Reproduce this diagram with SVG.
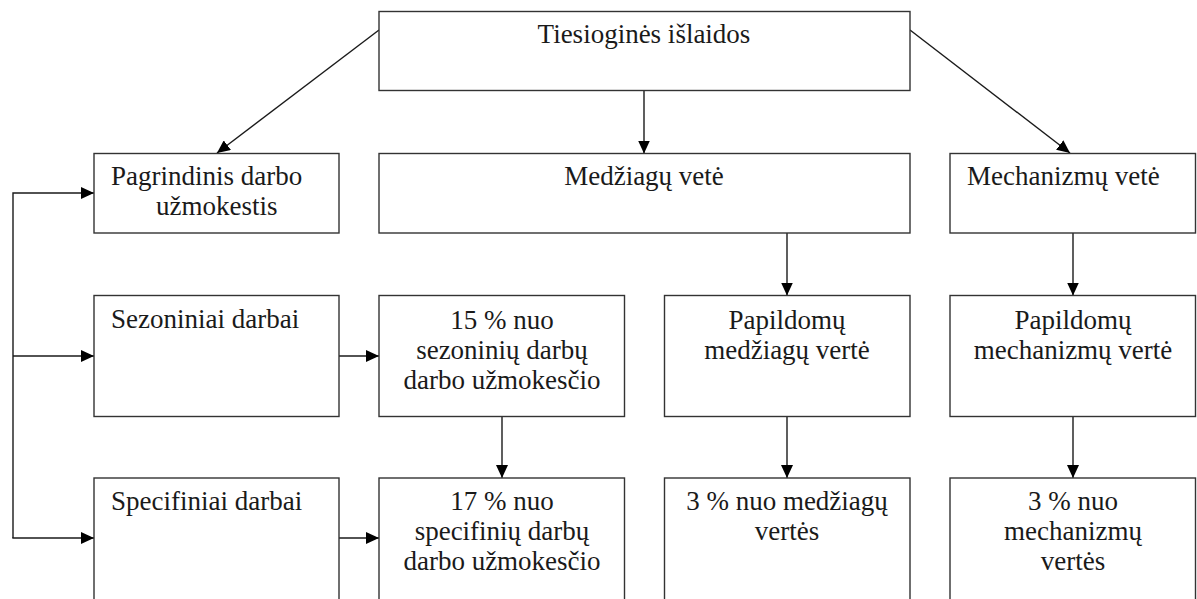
<svg xmlns="http://www.w3.org/2000/svg" width="1197" height="599" viewBox="0 0 1197 599">
<style>
.box{fill:#fff;stroke:#333;stroke-width:1.4}
.t{font-family:"Liberation Serif","DejaVu Serif",serif;font-size:27px;fill:#1a1a1a}
.c{text-anchor:middle}
.ln{fill:none;stroke:#1a1a1a;stroke-width:1.4}
</style>
<defs>
<marker id="ah" markerUnits="userSpaceOnUse" markerWidth="14" markerHeight="12" refX="13" refY="6" orient="auto">
<path d="M0,0 L13,6 L0,12 z" fill="#000"/>
</marker>
</defs>
<rect width="1197" height="599" fill="#fff"/>
<g id="connectors">
<line class="ln" x1="379" y1="30" x2="217" y2="153" marker-end="url(#ah)"/>
<line class="ln" x1="910" y1="30" x2="1070" y2="153" marker-end="url(#ah)"/>
<line class="ln" x1="644" y1="91" x2="644" y2="153.5" marker-end="url(#ah)"/>
<line class="ln" x1="787" y1="233" x2="787" y2="295.5" marker-end="url(#ah)"/>
<line class="ln" x1="1073" y1="233" x2="1073" y2="295.5" marker-end="url(#ah)"/>
<line class="ln" x1="502" y1="417" x2="502" y2="478" marker-end="url(#ah)"/>
<line class="ln" x1="787" y1="417" x2="787" y2="478" marker-end="url(#ah)"/>
<line class="ln" x1="1073" y1="417" x2="1073" y2="478" marker-end="url(#ah)"/>
<line class="ln" x1="339" y1="356" x2="379" y2="356" marker-end="url(#ah)"/>
<line class="ln" x1="339" y1="538" x2="379" y2="538" marker-end="url(#ah)"/>
<polyline class="ln" points="13,538 13,193 94,193" marker-end="url(#ah)"/>
<line class="ln" x1="13" y1="356" x2="94" y2="356" marker-end="url(#ah)"/>
<line class="ln" x1="12.3" y1="538" x2="94" y2="538" marker-end="url(#ah)"/>
</g>
<g id="n-tiesiogines">
<rect class="box" x="379" y="11.5" width="531" height="79"/>
<text class="t c" x="644" y="43">Tiesioginės išlaidos</text>
</g>
<g id="n-pagrindinis">
<rect class="box" x="94" y="153.5" width="245" height="79.5"/>
<text class="t" x="111" y="185">Pagrindinis darbo</text>
<text class="t" x="156" y="215">užmokestis</text>
</g>
<g id="n-medziagu">
<rect class="box" x="379" y="153.5" width="531" height="79.5"/>
<text class="t c" x="644" y="185">Medžiagų vetė</text>
</g>
<g id="n-mechanizmu">
<rect class="box" x="950" y="153.5" width="245.5" height="79.5"/>
<text class="t" x="967" y="185">Mechanizmų vetė</text>
</g>
<g id="n-sezoniniai">
<rect class="box" x="94" y="295.5" width="245" height="121"/>
<text class="t" x="111" y="328">Sezoniniai darbai</text>
</g>
<g id="n-15">
<rect class="box" x="379" y="295.5" width="245.5" height="121"/>
<text class="t c" x="502" y="329">15 % nuo</text>
<text class="t c" x="502" y="359">sezoninių darbų</text>
<text class="t c" x="502" y="389">darbo užmokesčio</text>
</g>
<g id="n-pap-medziagu">
<rect class="box" x="664.5" y="295.5" width="245.5" height="121"/>
<text class="t c" x="787" y="329">Papildomų</text>
<text class="t c" x="787" y="359">medžiagų vertė</text>
</g>
<g id="n-pap-mechanizmu">
<rect class="box" x="950" y="295.5" width="245.5" height="121"/>
<text class="t c" x="1073" y="329">Papildomų</text>
<text class="t c" x="1073" y="359">mechanizmų vertė</text>
</g>
<g id="n-specifiniai">
<rect class="box" x="94" y="478" width="245" height="135"/>
<text class="t" x="111" y="510">Specifiniai darbai</text>
</g>
<g id="n-17">
<rect class="box" x="379" y="478" width="245.5" height="135"/>
<text class="t c" x="502" y="510">17 % nuo</text>
<text class="t c" x="502" y="540">specifinių darbų</text>
<text class="t c" x="502" y="570">darbo užmokesčio</text>
</g>
<g id="n-3-medziagu">
<rect class="box" x="664.5" y="478" width="245.5" height="135"/>
<text class="t c" x="787" y="510">3 % nuo medžiagų</text>
<text class="t c" x="787" y="540">vertės</text>
</g>
<g id="n-3-mechanizmu">
<rect class="box" x="950" y="478" width="245.5" height="135"/>
<text class="t c" x="1073" y="510">3 % nuo</text>
<text class="t c" x="1073" y="540">mechanizmų</text>
<text class="t c" x="1073" y="570">vertės</text>
</g>
</svg>
